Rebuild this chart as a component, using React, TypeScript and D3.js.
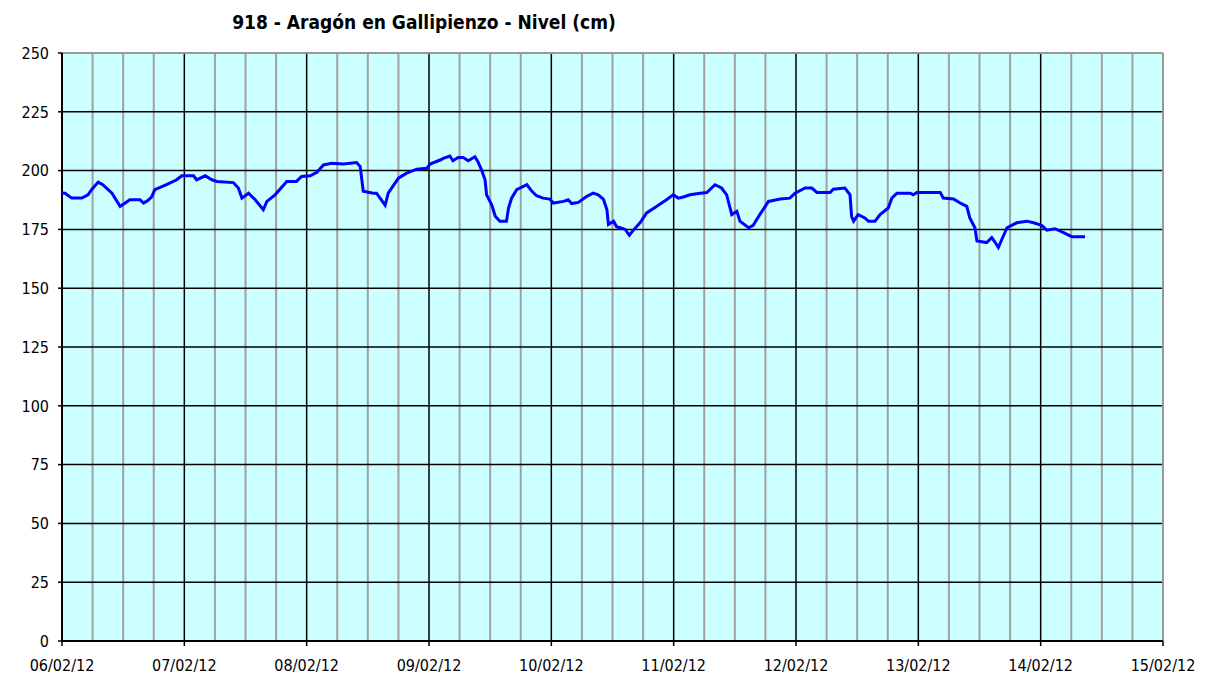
import * as d3 from 'd3';
import React from 'react';

const title = '918 - Aragón en Gallipienzo - Nivel (cm)';
const startDate = new Date(2012, 1, 6);
const endDate = new Date(2012, 1, 15);
const yTicks = [0, 25, 50, 75, 100, 125, 150, 175, 200, 225, 250];

// hours since 06/02/12 00:00
const hours = [
  0, 0.6, 1.9, 3.9, 5.1, 5.8, 7.1, 8.0, 9.8, 11.4, 12.4, 13.3, 15.3, 16.0, 16.9, 17.6, 18.2, 20.5,
  22.5, 23.5, 25.8, 26.4, 28.1, 29.4, 30.4, 33.6, 34.6, 35.3, 36.6, 37.9, 39.5, 40.2, 41.8, 44.1,
  46.0, 47.0, 48.7, 50.0, 51.3, 52.9, 55.2, 57.8, 58.5, 59.1, 61.1, 61.7, 63.4, 64.0, 66.0, 67.6,
  69.6, 71.6, 72.2, 74.2, 74.8, 76.1, 76.7, 77.7, 78.7, 79.7, 81.0, 81.6, 82.3, 83.0, 83.3, 84.3,
  85.0, 85.9, 87.2, 87.6, 88.2, 89.2, 91.2, 92.2, 93.1, 94.4, 95.7, 96.4, 98.4, 99.3, 100.0, 101.3,
  102.9, 104.2, 105.2, 106.2, 106.9, 107.2, 108.2, 108.8, 109.5, 110.5, 111.3, 112.1, 113.4, 114.7,
  116.7, 118.6, 119.9, 120.9, 121.9, 123.2, 125.2, 126.5, 128.1, 129.4, 130.4, 131.4, 132.4, 133.0,
  134.7, 135.6, 136.9, 138.6, 140.9, 142.8, 143.8, 145.8, 147.1, 148.1, 150.7, 151.3, 153.6, 154.6,
  154.9, 155.3, 156.2, 157.5, 158.2, 159.5, 160.5, 162.1, 162.8, 163.8, 166.4, 167.0, 167.7, 172.3,
  172.9, 174.9, 176.2, 177.5, 178.1, 179.1, 179.5, 181.4, 182.4, 183.1, 183.7, 184.4, 185.4, 187.3,
  189.3, 190.6, 192.2, 193.2, 194.8, 196.5, 198.1, 200.7,
];

// nivel (cm)
const levels = [
  190.5, 190.4, 188.3, 188.3, 189.7, 191.9, 195.1, 194.0, 190.4, 184.8, 186.2, 187.6, 187.6, 186.2,
  187.4, 188.8, 191.9, 194.0, 196.1, 197.8, 197.8, 196.1, 197.8, 196.1, 195.4, 194.9, 192.6, 188.3,
  190.4, 187.6, 183.4, 186.9, 189.7, 195.4, 195.4, 197.5, 197.8, 199.3, 202.4, 203.1, 202.8, 203.4,
  201.7, 191.2, 190.4, 190.4, 185.3, 190.4, 196.8, 198.9, 200.6, 201.0, 202.8, 204.5, 205.2, 206.2,
  204.2, 205.6, 205.6, 204.2, 205.9, 203.8, 200.3, 196.1, 189.7, 185.5, 180.6, 178.5, 178.5, 184.1,
  188.3, 191.9, 194.0, 191.2, 189.3, 188.3, 187.9, 186.2, 186.9, 187.6, 186.0, 186.5, 189.0, 190.4,
  189.7, 187.9, 183.4, 177.1, 178.5, 176.1, 175.7, 175.0, 172.5, 174.7, 177.8, 182.0, 184.8, 187.6,
  189.7, 188.3, 188.8, 189.7, 190.4, 190.7, 194.0, 192.6, 189.7, 181.3, 182.7, 178.5, 175.7, 176.7,
  181.3, 186.9, 187.9, 188.3, 190.4, 192.6, 192.6, 190.7, 190.7, 192.1, 192.6, 189.7, 180.6, 178.5,
  181.3, 179.9, 178.5, 178.5, 181.3, 184.1, 188.3, 190.4, 190.4, 189.7, 190.7, 190.7, 188.3, 187.9,
  186.2, 184.8, 179.9, 175.7, 170.1, 169.4, 171.5, 169.4, 167.3, 170.8, 175.7, 177.8, 178.5, 177.8,
  176.7, 174.7, 175.3, 173.6, 171.9, 171.9,
];

const W = 1221;
const H = 680;
const left = 62;
const right = 1163;
const top = 53;
const bottom = 641;
const font = '"DejaVu Sans Condensed", "DejaVu Sans", sans-serif';

export default function App() {
  const x = d3.scaleTime().domain([startDate, endDate]).range([left, right]);
  const y = d3.scaleLinear().domain([0, 250]).range([bottom, top]);

  const days = d3.timeDay.range(startDate, d3.timeDay.offset(endDate, 1));
  const quarters = d3.timeHour.every(6)!.range(startDate, endDate).filter((d) => d.getHours() !== 0);
  const fmt = d3.timeFormat('%d/%m/%y');

  const points: [Date, number][] = hours.map((h, i) => [
    new Date(startDate.getTime() + h * 3600 * 1000),
    levels[i],
  ]);
  const path = d3
    .line<[Date, number]>()
    .x((d) => x(d[0]))
    .y((d) => y(d[1]))(points);

  return (
    <svg width={W} height={H} style={{ position: 'absolute', left: 0, top: 0, background: '#fff' }}>
      <text x={424} y={29} textAnchor="middle" fontFamily={font} fontWeight="bold" fontSize={19} fill="#000">
        {title}
      </text>
      <rect x={left} y={top} width={right - left} height={bottom - top} fill="#ccffff" />
      {quarters.map((d, i) => (
        <line key={'q' + i} x1={x(d)} x2={x(d)} y1={top} y2={bottom} stroke="#a0a0a0" strokeWidth={2} />
      ))}
      {yTicks.map((t) => (
        <line key={'h' + t} x1={left} x2={right} y1={y(t)} y2={y(t)} stroke="#000" strokeWidth={1.5} />
      ))}
      {days.slice(1, -1).map((d, i) => (
        <line key={'d' + i} x1={x(d)} x2={x(d)} y1={top} y2={bottom} stroke="#000" strokeWidth={1.5} />
      ))}
      <line x1={left} x2={right} y1={top} y2={top} stroke="#999" strokeWidth={2} />
      <line x1={right} x2={right} y1={top} y2={bottom} stroke="#999" strokeWidth={2} />
      <line x1={left} x2={left} y1={top} y2={bottom + 1} stroke="#000" strokeWidth={2} />
      <line x1={left} x2={right} y1={bottom} y2={bottom} stroke="#000" strokeWidth={2} />
      {yTicks.map((t) => (
        <g key={'yt' + t}>
          <line x1={left - 4} x2={left} y1={y(t)} y2={y(t)} stroke="#000" strokeWidth={1.5} />
          <text x={49} y={y(t)} dy="0.36em" textAnchor="end" fontFamily={font} fontSize={16} fill="#000">
            {t}
          </text>
        </g>
      ))}
      {days.slice(0, 10).map((d, i) => (
        <g key={'xt' + i}>
          <line x1={x(d)} x2={x(d)} y1={bottom} y2={bottom + 5} stroke="#000" strokeWidth={1.5} />
          <text x={x(d)} y={671} textAnchor="middle" fontFamily={font} fontSize={16} fill="#000">
            {fmt(d)}
          </text>
        </g>
      ))}
      <path d={path ?? ''} fill="none" stroke="#0000ff" strokeWidth={3} strokeLinejoin="miter" />
    </svg>
  );
}
